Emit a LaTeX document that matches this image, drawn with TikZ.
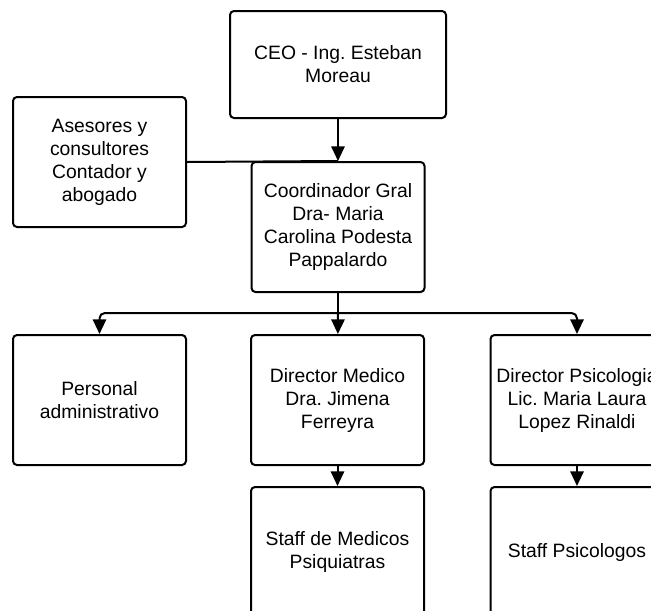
\documentclass[tikz,border=0pt]{standalone}
\usepackage{fontspec}
\setmainfont{Liberation Sans}
\usetikzlibrary{shapes, positioning, arrows.meta}
\frenchspacing

\begin{document}
\begin{tikzpicture}[x=0.75pt, y=-0.75pt,
        box/.style={draw, line width=1.5pt, rounded corners=3pt, align=center, inner sep=0pt,
          minimum width=129.75pt, minimum height=97.5pt, font=\fontsize{14.5}{17.25}\selectfont},
        link/.style={line width=1.5pt},
        arr/.style={link, -{Triangle[width=10pt, length=11pt]}}]
        \useasboundingbox (0,0) rectangle (651,611);
        \clip (0,0) rectangle (651,611);

        \node[box, minimum width=162pt, minimum height=80.25pt] (CEO) at (338,64.5) {CEO - Ing. Esteban\\Moreau};
        \node[box] (AS) at (99.5,162) {Asesores y\\consultores\\Contador y\\abogado};
        \node[box] (CG) at (338,227) {Coordinador Gral\\Dra- Maria\\Carolina Podesta\\Pappalardo};
        \node[box] (PA) at (99.5,400) {Personal\\administrativo};
        \node[box] (DM) at (337.5,400) {Director Medico\\Dra. Jimena\\Ferreyra};
        \node[box] (DP) at (577,400) {Director Psicologia\\Lic. Maria Laura\\Lopez Rinaldi};
        \node[box] (SM) at (337.5,552) {Staff de Medicos\\Psiquiatras};
        \node[box] (SP) at (577,552) {Staff Psicologos};
        \coordinate (S) at (338,313);

        \draw[arr] (CEO) -- (CG);
        \draw[link] (AS.east) -- (CG.north);
        \draw[link] (CG) -- (S);
        \draw[arr, rounded corners=4pt] (S) -| (PA);
        \draw[arr] (S) -- (DM);
        \draw[arr, rounded corners=4pt] (S) -| (DP);
        \draw[arr] (DM) -- (SM);
        \draw[arr] (DP) -- (SP);

      \end{tikzpicture}
\end{document}
